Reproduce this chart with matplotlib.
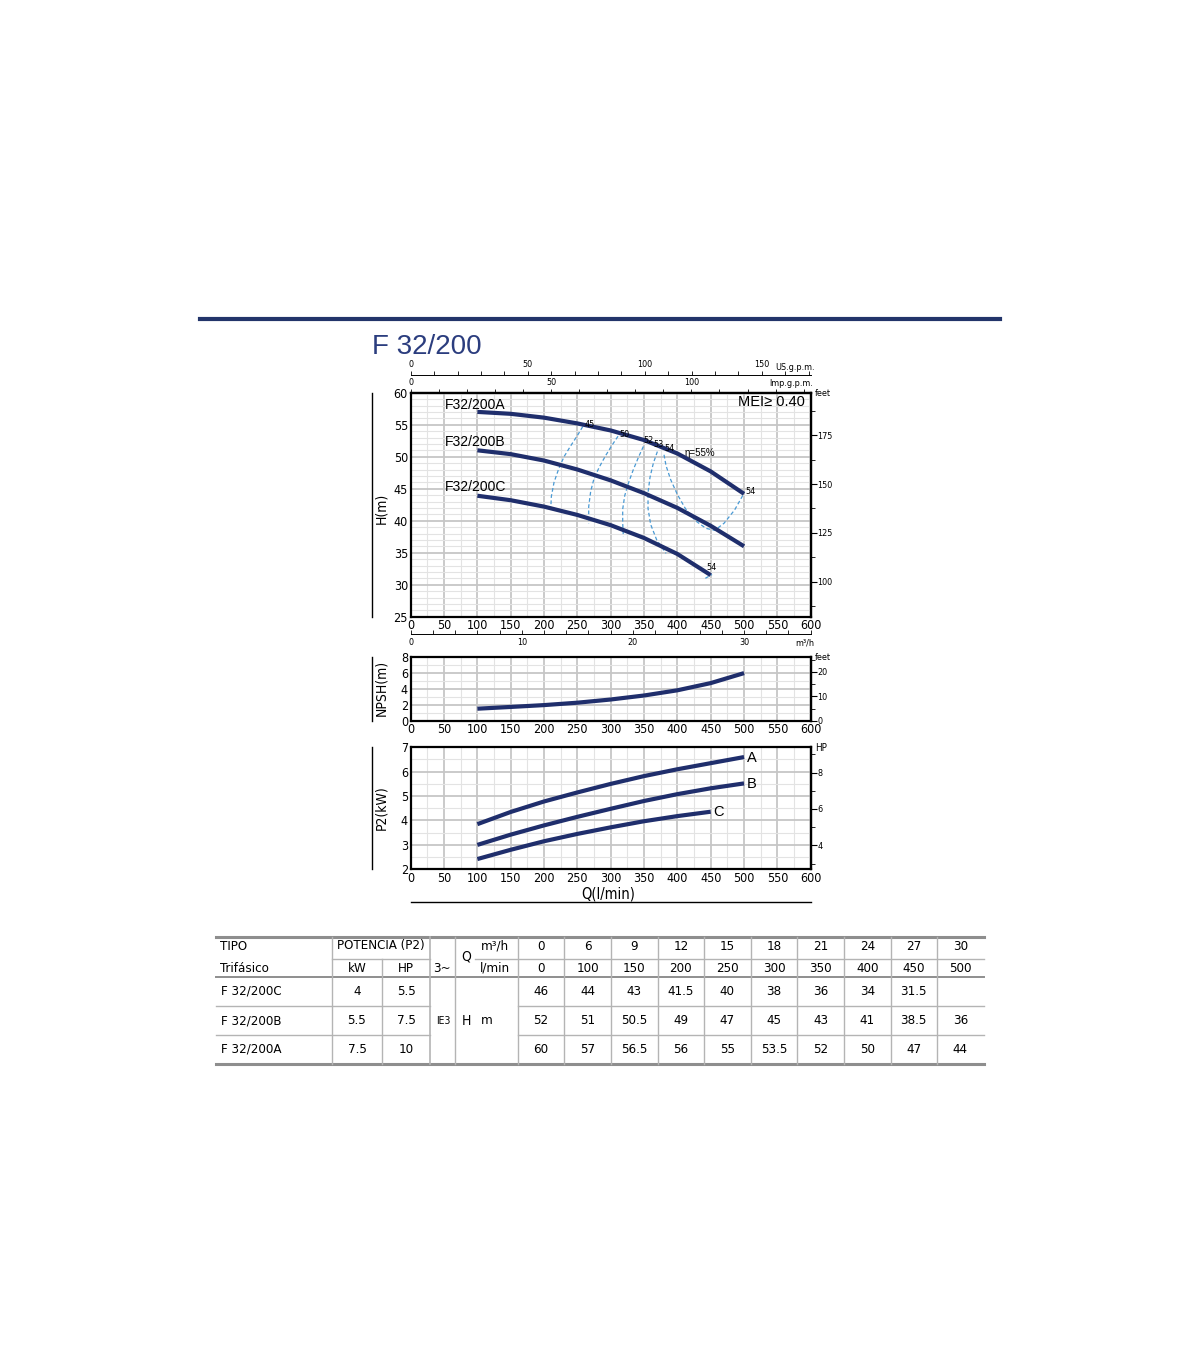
import matplotlib
matplotlib.use("Agg")
import matplotlib.pyplot as plt
from matplotlib import font_manager
from matplotlib.ticker import MultipleLocator

# pick a narrow face if the machine has one (the sheet uses a condensed sans)
fl = font_manager.fontManager.ttflist
names = {f.name for f in fl}
if "Liberation Sans Narrow" in names:
    plt.rcParams["font.family"] = ["Liberation Sans Narrow", "DejaVu Sans"]
    FS_TICK, FS_TAB = 10, 9.5
elif any(f.name == "DejaVu Sans" and "condensed" in str(f.stretch) for f in fl):
    plt.rcParams["font.family"] = ["DejaVu Sans"]
    plt.rcParams["font.stretch"] = "condensed"
    FS_TICK, FS_TAB = 9, 9.5
else:
    plt.rcParams["font.family"] = ["Liberation Sans", "DejaVu Sans"]
    FS_TICK, FS_TAB = 9, 9
SANS = ["Liberation Sans", "DejaVu Sans"]

# ---------------- data ----------------
flow_m3h = [0, 6, 9, 12, 15, 18, 21, 24, 27, 30]
flow_lmin = [0, 100, 150, 200, 250, 300, 350, 400, 450, 500]
models = ["F 32/200C", "F 32/200B", "F 32/200A"]
power_kw = [4, 5.5, 7.5]
power_hp = [5.5, 7.5, 10]
head_C = [46, 44, 43, 41.5, 40, 38, 36, 34, 31.5, None]
head_B = [52, 51, 50.5, 49, 47, 45, 43, 41, 38.5, 36]
head_A = [60, 57, 56.5, 56, 55, 53.5, 52, 50, 47, 44]

# curves as drawn on the sheet
q_curve = [100, 150, 200, 250, 300, 350, 400, 450, 500]
curve_A = [57.0, 56.7, 56.1, 55.2, 54.1, 52.6, 50.5, 47.7, 44.2]
curve_B = [51.0, 50.4, 49.4, 48.0, 46.3, 44.3, 42.0, 39.2, 36.0]
curve_C = [43.9, 43.2, 42.2, 40.9, 39.3, 37.3, 34.8, 31.5]
npsh_m = [1.5, 1.72, 1.95, 2.25, 2.65, 3.15, 3.8, 4.7, 5.95]
p2_A = [3.85, 4.35, 4.78, 5.15, 5.5, 5.82, 6.1, 6.35, 6.6]
p2_B = [3.0, 3.42, 3.8, 4.15, 4.48, 4.8, 5.08, 5.32, 5.52]
p2_C = [2.42, 2.8, 3.15, 3.45, 3.72, 3.97, 4.18, 4.36]

# iso-efficiency lines (Q l/min, H m)
eff_45 = ([258, 250, 240, 230, 222, 215, 211, 210], [54.7, 53.3, 51.7, 50.0, 48.1, 46.0, 43.8, 41.7])
eff_50 = ([311, 302, 292, 283, 275, 270, 267, 267], [53.2, 51.8, 50.1, 48.4, 46.6, 44.6, 42.2, 39.6])
eff_52 = ([349, 342, 334, 327, 321, 318, 318, 319], [51.6, 50.0, 48.0, 46.0, 43.9, 41.8, 39.6, 37.5])
eff_53 = ([370, 364, 359, 356, 356, 360, 369, 383], [50.8, 49.0, 46.8, 44.4, 41.9, 39.4, 37.0, 34.9])
eff_54 = ([380, 383, 390, 400, 412, 427, 443, 456, 470, 486, 500],
          [50.3, 48.6, 46.4, 44.1, 41.9, 40.0, 38.8, 38.5, 39.6, 41.7, 44.3])
eff_54c = ([442, 452], [31.0, 31.6])

W, H = 1200, 1372
NAVY = "#1f2e6c"
DASH = "#4a9ad4"

fig = plt.figure(figsize=(W / 100, H / 100), dpi=100)


def rect(x0, y0, x1, y1):
    return [x0 / W, 1 - y1 / H, (x1 - x0) / W, (y1 - y0) / H]


ov = fig.add_axes([0, 0, 1, 1])
ov.set_xlim(0, W)
ov.set_ylim(H, 0)
ov.axis("off")

ax_h = fig.add_axes(rect(410.7, 392.7, 810.7, 616.7))
ax_n = fig.add_axes(rect(410.7, 656.7, 810.7, 720.7))
ax_p = fig.add_axes(rect(410.7, 747.3, 810.7, 869.3))


def style(ax, y0, y1, ymaj, ymin):
    ax.set_xlim(0, 600)
    ax.set_ylim(y0, y1)
    ax.xaxis.set_major_locator(MultipleLocator(50))
    ax.xaxis.set_minor_locator(MultipleLocator(25))
    ax.yaxis.set_major_locator(MultipleLocator(ymaj))
    ax.yaxis.set_minor_locator(MultipleLocator(ymin))
    ax.grid(which="major", color="#c6c6c6", lw=1.3)
    ax.grid(which="minor", color="#e3e3e3", lw=0.8)
    ax.set_axisbelow(True)
    for s in ax.spines.values():
        s.set_linewidth(1.6)
    ax.tick_params(which="both", length=0, labelsize=FS_TICK, pad=2)


style(ax_h, 25, 60, 5, 1)
style(ax_n, 0, 8, 2, 1)
style(ax_p, 2, 7, 1, 0.5)


def right_axis(ax, fwd, inv, maj, mnr):
    sec = ax.secondary_yaxis("right", functions=(fwd, inv))
    sec.yaxis.set_major_locator(MultipleLocator(maj))
    sec.yaxis.set_minor_locator(MultipleLocator(mnr))
    sec.tick_params(which="major", length=4, width=0.8, labelsize=6.5, pad=1)
    sec.tick_params(which="minor", length=3, width=0.6)
    sec.spines["right"].set_linewidth(1.6)
    return sec


right_axis(ax_h, lambda m: m * 3.281, lambda f: f / 3.281, 25, 12.5)
right_axis(ax_n, lambda m: m * 3.281, lambda f: f / 3.281, 10, 5)
right_axis(ax_p, lambda k: k / 0.7457, lambda hp: hp * 0.7457, 2, 1)

# flow scales above / below the head chart (spacing as printed)
imp = ax_h.secondary_xaxis("top", functions=(lambda q: q / 4.21, lambda g: g * 4.21))
imp.xaxis.set_major_locator(MultipleLocator(50))
imp.xaxis.set_minor_locator(MultipleLocator(10))
imp.tick_params(which="both", direction="out", length=3, width=0.6, labelsize=6.5, pad=1)
imp.spines["top"].set_linewidth(1.6)

us = ax_h.secondary_xaxis(1.0804, functions=(lambda q: q / 3.51, lambda g: g * 3.51))
us.xaxis.set_major_locator(MultipleLocator(50))
us.xaxis.set_minor_locator(MultipleLocator(10))
us.tick_params(which="both", direction="out", length=3, width=0.6, labelsize=6.5, pad=1)
us.spines["top"].set_linewidth(0.7)

m3 = ax_h.secondary_xaxis(-0.0772, functions=(lambda q: q * 0.06, lambda v: v / 0.06))
m3.xaxis.set_major_locator(MultipleLocator(10))
m3.xaxis.set_minor_locator(MultipleLocator(2))
m3.tick_params(which="both", direction="in", length=3, width=0.6, labelsize=6.5, pad=3)
m3.spines["bottom"].set_linewidth(0.7)

# ---------------- curves ----------------
for heads in (curve_A, curve_B, curve_C):
    ax_h.plot(q_curve[:len(heads)], heads, color=NAVY, lw=3,
              solid_capstyle="butt", solid_joinstyle="round", zorder=4)

for xs, ys in (eff_45, eff_50, eff_52, eff_53, eff_54, eff_54c):
    ax_h.plot(xs, ys, color=DASH, lw=0.9, dashes=(3, 2), zorder=3)

for lbl, y in (("F32/200A", 58.1), ("F32/200B", 52.3), ("F32/200C", 45.2)):
    ax_h.text(51, y, lbl, fontsize=10, family=SANS, va="center", ha="left")
ax_h.text(592, 58.5, "MEI≥ 0.40", fontsize=10.5, family=SANS, ha="right", va="center")
for lbl, x, y in (("45", 269, 55.1), ("50", 321, 53.5), ("52", 356, 52.6),
                  ("53", 371, 51.9), ("54", 388, 51.3), ("54", 510, 44.5), ("54", 451, 32.7)):
    ax_h.text(x, y, lbl, fontsize=6.5, ha="center", va="center", zorder=5)
ax_h.text(433, 50.6, "η=55%", fontsize=7, family=SANS, ha="center", va="center")

ax_n.plot(q_curve, npsh_m, color=NAVY, lw=3, solid_capstyle="butt", solid_joinstyle="round")

for vals, lbl in ((p2_A, "A"), (p2_B, "B"), (p2_C, "C")):
    qs = q_curve[:len(vals)]
    ax_p.plot(qs, vals, color=NAVY, lw=3, solid_capstyle="butt", solid_joinstyle="round")
    ax_p.text(qs[-1] + 4, vals[-1] - 0.02, lbl, fontsize=10.5, family=SANS, va="center")

# ---------------- frame decorations ----------------
ov.plot([200, 1000], [319, 319], color="#22346a", lw=3)
ov.text(372, 347, "F 32/200", fontsize=20, family=SANS, color="#2b3d7e", va="center")
for y0, y1 in ((393, 617), (657, 721), (747, 869)):
    ov.plot([371.5, 371.5], [y0, y1], color="black", lw=1)
ov.text(381, 508, "H(m)", rotation=90, fontsize=10, ha="center", va="center")
ov.text(381, 688, "NPSH(m)", rotation=90, fontsize=10, ha="center", va="center")
ov.text(381, 808, "P2(kW)", rotation=90, fontsize=10, ha="center", va="center")
ov.text(608, 894, "Q(l/min)", fontsize=10.5, ha="center", va="center")
ov.plot([410.7, 810.7], [902, 902], color="black", lw=1)
ov.text(775, 368, "US.g.p.m.", fontsize=6.5, va="center")
ov.text(769, 383, "Imp.g.p.m.", fontsize=6.5, va="center")
ov.text(795, 643, "m³/h", fontsize=6.5, va="center")
ov.text(815, 394, "feet", fontsize=6.5, va="center")
ov.text(815, 658, "feet", fontsize=6.5, va="center")
ov.text(815, 748, "HP", fontsize=7, va="center")

# ---------------- table ----------------
LC = "#b4b4b4"
TK = "#8e8e8e"
col_c = [541 + 46.6 * i for i in range(len(flow_lmin))]
bounds = [518] + [c + 23.3 for c in col_c[:-1]]
x_l, x_r = 216, 984
y_top, y_mid, y_hdr, y_r1, y_r2, y_bot = 936.5, 959, 977, 1006, 1035, 1063.5

ov.plot([x_l, x_r], [y_top, y_top], color=TK, lw=2.2)
ov.plot([x_l, x_r], [y_bot, y_bot], color=TK, lw=2.2)
ov.plot([x_l, x_r], [y_hdr, y_hdr], color=TK, lw=1.4)
ov.plot([332, 430], [y_mid, y_mid], color=LC, lw=1)
ov.plot([475, x_r], [y_mid, y_mid], color=LC, lw=1)
for y in (y_r1, y_r2):
    ov.plot([x_l, 430], [y, y], color=LC, lw=1)
    ov.plot([518, x_r], [y, y], color=LC, lw=1)
for x in [332, 430, 455] + bounds:
    ov.plot([x, x], [y_top, y_bot], color=LC, lw=1.2 if x == 430 else 1)
ov.plot([382, 382], [y_mid, y_bot], color=LC, lw=1)

TS = FS_TAB
ov.text(220, 946, "TIPO", fontsize=TS, va="center")
ov.text(220, 968, "Trifásico", fontsize=TS, va="center")
ov.text(381, 946, "POTENCIA (P2)", fontsize=TS, ha="center", va="center")
ov.text(357, 968, "kW", fontsize=TS, ha="center", va="center")
ov.text(406, 968, "HP", fontsize=TS, ha="center", va="center")
ov.text(442, 968, "3~", fontsize=TS, ha="center", va="center")
ov.text(466, 957, "Q", fontsize=TS + 0.5, ha="center", va="center")
ov.text(495, 946, "m³/h", fontsize=TS, ha="center", va="center")
ov.text(495, 968, "l/min", fontsize=TS, ha="center", va="center")
ov.text(443, 1021, "IE3", fontsize=7.5, ha="center", va="center")
ov.text(466, 1021, "H", fontsize=TS + 0.5, ha="center", va="center")
ov.text(487, 1021, "m", fontsize=TS, ha="center", va="center")
for c, v3, vl in zip(col_c, flow_m3h, flow_lmin):
    ov.text(c, 946, f"{v3:g}", fontsize=TS, ha="center", va="center")
    ov.text(c, 968, f"{vl:g}", fontsize=TS, ha="center", va="center")

row_y = [991.5, 1020.5, 1049.5]
for y, name, kw, hp, heads in zip(row_y, models, power_kw, power_hp, (head_C, head_B, head_A)):
    ov.text(221, y, name, fontsize=TS, va="center")
    ov.text(357, y, f"{kw:g}", fontsize=TS, ha="center", va="center")
    ov.text(406, y, f"{hp:g}", fontsize=TS, ha="center", va="center")
    for c, h in zip(col_c, heads):
        if h is not None:
            ov.text(c, y, f"{h:g}", fontsize=TS, ha="center", va="center")

fig.savefig("out.png", dpi=100)
